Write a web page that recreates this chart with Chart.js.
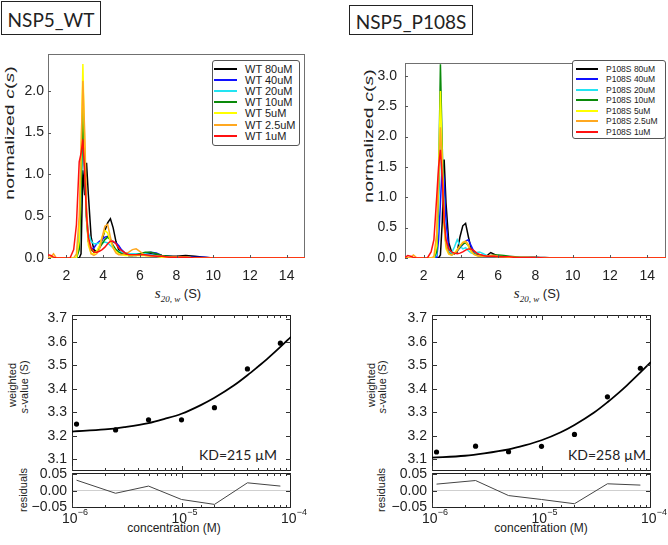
<!DOCTYPE html>
<html>
<head>
<meta charset="utf-8">
<title>NSP5 WT / P108S c(s) and weighted s-value isotherms</title>
<script src="https://cdn.jsdelivr.net/npm/chart.js@4.4.1/dist/chart.umd.min.js"></script>
<style>
  html, body { margin: 0; background: #fff; }
  #fig { position: relative; width: 668px; height: 545px; overflow: hidden;
         font-family: "Liberation Sans", Arial, sans-serif; color: #222; }
  #fig canvas { position: absolute; }
  .txt { position: absolute; white-space: nowrap; line-height: 1; transform: translate(-50%, -50%); }
  .tbox { position: absolute; border: 1px solid #222; box-sizing: border-box;
          font-family: Lato, sans-serif; display: flex; align-items: center; justify-content: center; }
  .legend { position: absolute; border: 1px solid #555; border-radius: 3px; box-sizing: border-box; background: #fff; }
  .legend div { position: absolute; white-space: nowrap; line-height: 1; }
  .legend span { position: absolute; height: 2px; }
  .kd { font-family: Lato, sans-serif; font-size: 14px; }
  .ser { font-family: "Liberation Serif", serif; font-style: italic; }
</style>
</head>
<body>
<div id="fig">
  <div class="tbox" style="left:1px;top:1px;width:100px;height:34px;font-size:19px;padding-top:2px">NSP5_WT</div>
  <div class="tbox" style="left:349px;top:5px;width:124px;height:30px;font-size:19px;padding-top:2px">NSP5_P108S</div>

  <div class="txt" style="left:9px;top:133px;font-size:13px;transform:translate(-50%,-50%) rotate(-90deg) scaleX(1.5)">normalized <i>c</i>(<i>s</i>)</div>
  <div class="txt" style="left:368px;top:136px;font-size:13px;transform:translate(-50%,-50%) rotate(-90deg) scaleX(1.5)">normalized <i>c</i>(<i>s</i>)</div>

  <div class="txt" style="left:178px;top:293px;font-size:13px"><span class="ser" style="font-size:15px">s</span><span class="ser" style="font-size:9px;position:relative;top:4px">20, w</span> (S)</div>
  <div class="txt" style="left:537px;top:293px;font-size:13px"><span class="ser" style="font-size:15px">s</span><span class="ser" style="font-size:9px;position:relative;top:4px">20, w</span> (S)</div>

  <div class="txt" style="left:12px;top:385px;font-size:11px;transform:translate(-50%,-50%) rotate(-90deg)">weighted</div>
  <div class="txt" style="left:24px;top:387px;font-size:11px;transform:translate(-50%,-50%) rotate(-90deg)"><i>s</i>-value (S)</div>
  <div class="txt" style="left:23px;top:490px;font-size:11px;transform:translate(-50%,-50%) rotate(-90deg)">residuals</div>
  <div class="txt" style="left:371px;top:385px;font-size:11px;transform:translate(-50%,-50%) rotate(-90deg)">weighted</div>
  <div class="txt" style="left:382px;top:387px;font-size:11px;transform:translate(-50%,-50%) rotate(-90deg)"><i>s</i>-value (S)</div>
  <div class="txt" style="left:381px;top:490px;font-size:11px;transform:translate(-50%,-50%) rotate(-90deg)">residuals</div>

  <div class="txt" style="left:174px;top:528px;font-size:12px">concentration (M)</div>
  <div class="txt" style="left:541px;top:528px;font-size:12px">concentration (M)</div>

  <div class="txt kd" style="left:238px;top:455px">KD=215 µM</div>
  <div class="txt kd" style="left:607px;top:455px">KD=258 µM</div>
</div>
<script>
// sedimentation coefficient grid (S) shared by all c(s) traces
const sGrid = [1.0, 1.15, 1.3, 1.45, 1.6, 1.8, 2.0, 2.2, 2.4, 2.55,
               2.7, 2.8, 2.9, 3.0, 3.1, 3.2, 3.35, 3.5, 3.65, 3.8,
               3.95, 4.1, 4.25, 4.4, 4.55, 4.7, 4.85, 5.0, 5.2, 5.4,
               5.6, 5.8, 6.0, 6.3, 6.6, 6.9, 7.2, 7.6, 8.0, 8.5,
               9.0, 9.5, 10.0, 11.0, 12.0, 15.0];

const wtNames = ['WT 80uM', 'WT 40uM', 'WT 20uM', 'WT 10uM', 'WT 5uM', 'WT 2.5uM', 'WT 1uM'];
const p108Names = ['P108S 80uM', 'P108S 40uM', 'P108S 20uM', 'P108S 10uM', 'P108S 5uM', 'P108S 2.5uM', 'P108S 1uM'];
const lineColors = ['#000000', '#1010ff', '#22e4f2', '#0a8a0a', '#ffff00', '#ffa820', '#ff1010'];

// WT normalized c(s)
const wt80 = [0,0,0,0,0,0,0,0,0,0,
  0,0.05,1.05,0.75,1.14,0.75,0.25,0.1,0.07,0.12,
  0.22,0.33,0.42,0.47,0.36,0.2,0.1,0.06,0.04,0.03,
  0.03,0.03,0.04,0.05,0.05,0.04,0.03,0.02,0.02,0.03,
  0.02,0.01,0,0,0,0];
const wt40 = [0,0,0,0,0,0,0,0,0,0,
  0.15,0.9,1.8,1.2,0.5,0.2,0.1,0.12,0.17,0.2,
  0.22,0.25,0.26,0.22,0.19,0.18,0.15,0.1,0.06,0.04,
  0.04,0.04,0.05,0.06,0.07,0.06,0.03,0.02,0.01,0.01,
  0.01,0.01,0,0,0,0];
const wt20 = [0,0,0,0,0,0,0,0,0,0,
  0.3,0.9,1.32,1.0,0.5,0.3,0.2,0.17,0.17,0.18,
  0.18,0.19,0.18,0.15,0.12,0.1,0.08,0.07,0.06,0.05,
  0.05,0.05,0.05,0.05,0.04,0.03,0.02,0.01,0.01,0.01,
  0,0,0,0,0,0];
const wt10 = [0,0,0,0,0,0,0,0,0,0,
  0.1,0.8,1.78,1.1,0.45,0.2,0.1,0.07,0.08,0.12,
  0.17,0.22,0.25,0.22,0.15,0.1,0.07,0.05,0.04,0.03,
  0.03,0.04,0.05,0.07,0.07,0.05,0.03,0.02,0.01,0.01,
  0,0,0,0,0,0];
const wt5 = [0,0,0,0,0,0,0,0,0,0,
  0.2,1.2,2.32,1.3,0.5,0.15,0.05,0.05,0.08,0.15,
  0.25,0.33,0.3,0.2,0.12,0.08,0.05,0.04,0.03,0.03,
  0.03,0.03,0.03,0.03,0.02,0.02,0.01,0.01,0.01,0.01,
  0,0,0,0,0,0];
const wt2_5 = [0.01,0.01,0.05,0,0,0,0,0,0,0.05,
  0.5,1.3,2.12,1.5,0.6,0.2,0.05,0.03,0.05,0.1,
  0.25,0.38,0.4,0.25,0.12,0.06,0.04,0.04,0.05,0.07,
  0.1,0.11,0.08,0.03,0.02,0.02,0.02,0.01,0.01,0.01,
  0,0,0,0,0,0];
const wt1 = [0.04,0.03,0.01,0,0,0,0,0,0.1,0.4,
  1.15,1.25,1.42,1.0,0.5,0.25,0.12,0.07,0.07,0.08,
  0.1,0.13,0.17,0.2,0.2,0.17,0.12,0.09,0.06,0.04,
  0.04,0.04,0.04,0.04,0.03,0.02,0.02,0.01,0.01,0.01,
  0,0,0,0,0,0];

// P108S normalized c(s)
const p80 = [0,0,0,0,0,0,0,0,0,0,
  0,0,0.05,0.6,1.62,0.9,0.25,0.1,0.07,0.1,
  0.35,0.53,0.57,0.35,0.15,0.08,0.05,0.03,0.03,0.04,
  0.09,0.06,0.03,0.02,0.01,0.01,0.01,0.01,0.01,0.01,
  0,0,0,0,0,0];
const p40 = [0,0,0,0,0,0,0,0,0,0,
  0,0.3,0.9,1.55,1.3,0.6,0.15,0.07,0.07,0.12,
  0.17,0.22,0.28,0.3,0.2,0.1,0.06,0.05,0.04,0.03,
  0.03,0.03,0.03,0.02,0.02,0.01,0.01,0.01,0.01,0,
  0,0,0,0,0,0];
const p20 = [0,0,0,0,0,0,0,0,0,0,
  0.05,0.8,1.9,1.6,0.7,0.25,0.1,0.08,0.18,0.3,
  0.2,0.15,0.17,0.12,0.08,0.07,0.09,0.1,0.07,0.04,
  0.03,0.03,0.03,0.03,0.02,0.02,0.01,0.01,0.01,0,
  0,0,0,0,0,0];
const p10 = [0,0,0,0,0,0,0,0,0,0,
  0.1,1.2,3.19,1.8,0.6,0.2,0.08,0.05,0.07,0.12,
  0.18,0.23,0.25,0.2,0.12,0.07,0.05,0.04,0.03,0.03,
  0.04,0.05,0.05,0.04,0.03,0.02,0.01,0.01,0.01,0,
  0,0,0,0,0,0];
const p5 = [0,0,0,0,0,0,0,0,0,0,
  0.2,1.3,2.75,1.6,0.5,0.15,0.06,0.05,0.08,0.14,
  0.2,0.26,0.27,0.2,0.1,0.06,0.04,0.03,0.03,0.03,
  0.03,0.03,0.02,0.02,0.01,0.01,0.01,0.01,0,0,
  0,0,0,0,0,0];
const p2_5 = [0,0,0.01,0.05,0.01,0,0,0,0,0.02,
  0.4,1.3,2.15,1.5,0.6,0.2,0.07,0.05,0.07,0.12,
  0.2,0.25,0.28,0.22,0.12,0.06,0.04,0.03,0.03,0.03,
  0.04,0.04,0.03,0.02,0.02,0.01,0.01,0.01,0.01,0,
  0,0,0,0,0,0];
const p1 = [0.01,0.04,0.03,0.01,0,0,0,0,0.1,0.3,
  1.0,1.5,1.78,1.3,0.6,0.3,0.15,0.1,0.08,0.07,
  0.08,0.1,0.13,0.15,0.15,0.12,0.08,0.06,0.04,0.03,
  0.03,0.03,0.02,0.02,0.02,0.01,0.01,0.01,0.01,0,
  0,0,0,0,0,0];

const wtSeries = [wt80, wt40, wt20, wt10, wt5, wt2_5, wt1];
const p108Series = [p80, p40, p20, p10, p5, p2_5, p1];

// tick values
const sTicks = [2, 4, 6, 8, 10, 12, 14];
const wtCsTicks = [0, 0.5, 1.0, 1.5, 2.0];
const p108CsTicks = [0, 0.5, 1.0, 1.5, 2.0, 2.5, 3.0];
const swTicks = [3.1, 3.2, 3.3, 3.4, 3.5, 3.6, 3.7];
const residTicks = [-0.05, 0, 0.05];

// weighted s-value isotherms (M, S)
const concM = [1.1e-6, 2.5e-6, 5e-6, 1e-5, 2e-5, 4e-5, 8e-5];
const wtSw = [3.25, 3.225, 3.268, 3.268, 3.32, 3.485, 3.595];
const p108Sw = [3.131, 3.156, 3.132, 3.155, 3.206, 3.366, 3.488];
const fitConc = [1e-6, 2e-6, 3e-6, 5e-6, 7e-6, 1e-5, 1.5e-5, 2e-5, 3e-5, 4e-5, 5e-5, 6e-5, 8e-5, 1e-4];
const wtFit = [3.218, 3.227, 3.237, 3.254, 3.272, 3.294, 3.331, 3.362, 3.414, 3.458, 3.495, 3.526, 3.579, 3.622];
const p108Fit = [3.107, 3.115, 3.125, 3.142, 3.159, 3.181, 3.215, 3.246, 3.298, 3.343, 3.381, 3.414, 3.47, 3.515];
const wtResid = [0.032, -0.008, 0.014, -0.027, -0.042, 0.024, 0.014];
const p108Resid = [0.02, 0.031, -0.015, -0.027, -0.04, 0.021, 0.017];

Chart.defaults.font.family = '"Liberation Sans", Arial, sans-serif';
Chart.defaults.font.size = 14;
Chart.defaults.color = '#222';
Chart.defaults.animation = false;
Chart.defaults.events = [];
Chart.defaults.plugins.legend.display = false;
Chart.defaults.plugins.tooltip.enabled = false;

const fig = document.getElementById('fig');

const framePlugin = {
  id: 'frame',
  beforeDatasetsDraw(chart, args, o) {
    const a = chart.chartArea, ctx = chart.ctx;
    ctx.save();
    ctx.strokeStyle = o.color;
    ctx.lineWidth = 1;
    ctx.strokeRect(Math.round(a.left) + 0.5, Math.round(a.top) + 0.5,
                   Math.round(a.right - a.left) - 1, Math.round(a.bottom - a.top) - 1);
    ctx.restore();
  }
};

const innerTicks = {
  id: 'innerTicks',
  afterDatasetsDraw(chart, args, o) {
    const {ctx, chartArea: a, scales} = chart;
    const xs = scales.x, ys = scales.y;
    const isMajor = v => !o.logX || Math.abs(Math.log10(v) - Math.round(Math.log10(v))) < 1e-6;
    ctx.save();
    ctx.strokeStyle = o.color;
    ctx.lineWidth = 1;
    ctx.beginPath();
    (o.xSides || []).forEach(side => xs.ticks.forEach(t => {
      const px = Math.round(xs.getPixelForValue(t.value)) + 0.5;
      if (px < a.left || px > a.right) return;
      const len = isMajor(t.value) ? o.major : o.minor;
      const y0 = side === 'bottom' ? a.bottom : a.top;
      const dir = side === 'bottom' ? -1 : 1;
      ctx.moveTo(px, y0);
      ctx.lineTo(px, y0 + dir * len);
    }));
    (o.ySides || []).forEach(side => ys.ticks.forEach(t => {
      const py = Math.round(ys.getPixelForValue(t.value)) + 0.5;
      const x0 = side === 'left' ? a.left : a.right;
      const dir = side === 'left' ? 1 : -1;
      ctx.moveTo(x0, py);
      ctx.lineTo(x0 + dir * o.major, py);
    }));
    ctx.stroke();
    ctx.restore();
  }
};

// 10^n labels under the log axis
const powLabels = {
  id: 'powLabels',
  afterDraw(chart, args, o) {
    const {ctx, chartArea: a, scales: {x}} = chart;
    ctx.save();
    ctx.fillStyle = '#222';
    ctx.textBaseline = 'alphabetic';
    ctx.textAlign = 'left';
    x.ticks.forEach(t => {
      const lg = Math.log10(t.value), e = Math.round(lg);
      if (Math.abs(lg - e) > 1e-6) return;
      const base = '10', sup = '\u2212' + Math.abs(e);
      ctx.font = o.baseFont;
      const wb = ctx.measureText(base).width;
      ctx.font = o.supFont;
      const ws = ctx.measureText(sup).width;
      const x0 = x.getPixelForValue(t.value) - (wb + ws) / 2 + o.shift;
      ctx.font = o.baseFont;
      ctx.fillText(base, x0, a.bottom + o.baseDy);
      ctx.font = o.supFont;
      ctx.fillText(sup, x0 + wb, a.bottom + o.supDy);
    });
    ctx.restore();
  }
};

function addCanvas(box) {
  const c = document.createElement('canvas');
  c.width = box.w;
  c.height = box.h;
  c.style.left = box.x + 'px';
  c.style.top = box.y + 'px';
  c.style.width = box.w + 'px';
  c.style.height = box.h + 'px';
  fig.appendChild(c);
  return c;
}

function padFor(box, plot) {
  return {top: plot.t - box.y, right: box.x + box.w - plot.r, left: 0, bottom: 0};
}

function fixedTicks(vals) {
  return s => { s.ticks = vals.map(v => ({value: v})); };
}

// pin the axis sizes so the plot area lands where the reference has it
function fitX(h) {
  return s => { s.height = h; s.paddingLeft = 0; s.paddingRight = 0; };
}
function fitY(w) {
  return s => { s.width = w; s.paddingTop = 0; s.paddingBottom = 0; };
}

function csChart(box, plot, names, series, yMax, yTicks, yPad) {
  return new Chart(addCanvas(box), {
    type: 'line',
    data: {
      datasets: series.map((ys, i) => ({
        label: names[i],
        data: sGrid.map((s, j) => ({x: s, y: ys[j]})),
        borderColor: lineColors[i],
        borderWidth: 1.5,
        pointRadius: 0,
        tension: 0,
        order: series.length - i
      }))
    },
    options: {
      responsive: false,
      layout: {padding: padFor(box, plot)},
      scales: {
        x: {
          type: 'linear', min: 1, max: 15,
          grid: {display: false, drawTicks: false}, border: {display: false},
          ticks: {padding: 10, maxRotation: 0, autoSkip: false, callback: v => String(v)},
          afterBuildTicks: fixedTicks(sTicks),
          afterFit: fitX(box.y + box.h - plot.b)
        },
        y: {
          min: 0, max: yMax,
          grid: {display: false, drawTicks: false}, border: {display: false},
          ticks: {padding: yPad, autoSkip: false, callback: v => v.toFixed(1)},
          afterBuildTicks: fixedTicks(yTicks),
          afterFit: fitY(plot.l - box.x)
        }
      },
      plugins: {
        frame: {color: '#707070'},
        innerTicks: {color: '#555', major: 3, minor: 2, xSides: ['bottom'], ySides: ['left']}
      }
    },
    plugins: [framePlugin, innerTicks]
  });
}

function swChart(box, plot, sw, fit, yPad) {
  return new Chart(addCanvas(box), {
    type: 'line',
    data: {
      datasets: [
        {data: concM.map((c, i) => ({x: c, y: sw[i]})), showLine: false,
         pointRadius: 2.6, pointBackgroundColor: '#000', pointBorderWidth: 0},
        {data: fitConc.map((c, i) => ({x: c, y: fit[i]})), borderColor: '#000',
         borderWidth: 1.8, pointRadius: 0, cubicInterpolationMode: 'monotone'}
      ]
    },
    options: {
      responsive: false,
      layout: {padding: padFor(box, plot)},
      scales: {
        x: {
          type: 'logarithmic', min: 1e-6, max: 1e-4,
          grid: {display: false, drawTicks: false}, border: {display: false},
          ticks: {display: false, autoSkip: false},
          afterFit: fitX(box.y + box.h - plot.b)
        },
        y: {
          min: 3.05, max: 3.715,
          grid: {display: false, drawTicks: false}, border: {display: false},
          ticks: {padding: yPad, autoSkip: false, callback: v => v.toFixed(1)},
          afterBuildTicks: fixedTicks(swTicks),
          afterFit: fitY(plot.l - box.x)
        }
      },
      plugins: {
        frame: {color: '#222'},
        innerTicks: {color: '#333', major: 5, minor: 3, logX: true, xSides: ['top', 'bottom'], ySides: ['left', 'right']}
      }
    },
    plugins: [framePlugin, innerTicks]
  });
}

function residChart(box, plot, resid, yPad) {
  return new Chart(addCanvas(box), {
    type: 'line',
    data: {
      datasets: [
        {data: concM.map((c, i) => ({x: c, y: resid[i]})), borderColor: '#444',
         borderWidth: 1, pointRadius: 0, tension: 0}
      ]
    },
    options: {
      responsive: false,
      layout: {padding: padFor(box, plot)},
      scales: {
        x: {
          type: 'logarithmic', min: 1e-6, max: 1e-4,
          grid: {display: false, drawTicks: false}, border: {display: false},
          ticks: {display: false, autoSkip: false},
          afterFit: fitX(box.y + box.h - plot.b)
        },
        y: {
          min: -0.053, max: 0.054,
          grid: {drawTicks: false, lineWidth: 1,
                 color: c => (c.tick && c.tick.value === 0) ? '#cfcfcf' : 'rgba(0,0,0,0)'},
          border: {display: false},
          ticks: {padding: yPad, autoSkip: false,
                  callback: v => (v < 0 ? '\u2212' : '') + Math.abs(v).toFixed(2)},
          afterBuildTicks: fixedTicks(residTicks),
          afterFit: fitY(plot.l - box.x)
        }
      },
      plugins: {
        frame: {color: '#222'},
        innerTicks: {color: '#333', major: 5, minor: 3, logX: true, xSides: ['top', 'bottom'], ySides: ['left', 'right']},
        powLabels: {baseFont: '14px "Liberation Sans"', supFont: '9px "Liberation Sans"', baseDy: 15, supDy: 7, shift: 3}
      }
    },
    plugins: [framePlugin, innerTicks, powLabels]
  });
}

function makeLegend(box, names, row0, step, lineX, lineW, textX, size) {
  const lg = document.createElement('div');
  lg.className = 'legend';
  lg.style.left = box.x + 'px';
  lg.style.top = box.y + 'px';
  lg.style.width = box.w + 'px';
  lg.style.height = box.h + 'px';
  names.forEach((n, i) => {
    const cy = row0 + i * step;
    const ln = document.createElement('span');
    ln.style.left = lineX + 'px';
    ln.style.top = (cy - 1) + 'px';
    ln.style.width = lineW + 'px';
    ln.style.background = lineColors[i];
    const t = document.createElement('div');
    t.textContent = n;
    t.style.left = textX + 'px';
    t.style.top = cy + 'px';
    t.style.fontSize = size + 'px';
    t.style.transform = 'translateY(-50%)';
    lg.append(ln, t);
  });
  fig.appendChild(lg);
}

// top row: c(s) distributions
csChart({x: 0, y: 40, w: 320, h: 240}, {l: 48, t: 54, r: 305, b: 258}, wtNames, wtSeries, 2.44, wtCsTicks, 4);
csChart({x: 340, y: 40, w: 328, h: 240}, {l: 405, t: 63, r: 666, b: 258}, p108Names, p108Series, 3.21, p108CsTicks, 8);
makeLegend({x: 212, y: 60, w: 88, h: 86}, wtNames, 8, 11.1, 1, 23, 32, 11);
makeLegend({x: 572, y: 60, w: 94, h: 79}, p108Names, 8, 10.45, 3, 22, 33, 8.5);

// bottom row: isotherms + residuals
swChart({x: 0, y: 300, w: 320, h: 175}, {l: 72, t: 315, r: 291, b: 473}, wtSw, wtFit, 5);
residChart({x: 0, y: 455, w: 320, h: 90}, {l: 72, t: 473, r: 291, b: 508}, wtResid, 5);
swChart({x: 340, y: 300, w: 328, h: 175}, {l: 432, t: 315, r: 651, b: 473}, p108Sw, p108Fit, 5);
residChart({x: 340, y: 455, w: 328, h: 90}, {l: 432, t: 473, r: 651, b: 508}, p108Resid, 5);
</script>
</body>
</html>
